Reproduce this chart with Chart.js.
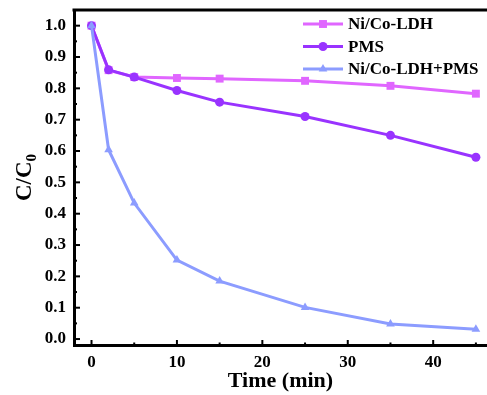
<!DOCTYPE html>
<html>
<head>
<meta charset="utf-8">
<script src="https://cdn.jsdelivr.net/npm/chart.js@4.4.1/dist/chart.umd.min.js"></script>
<style>
  html, body { margin: 0; padding: 0; background: #fff; }
  #wrap { width: 487px; height: 395px; }
</style>
</head>
<body>
<div id="wrap"><canvas id="c" width="487" height="395"></canvas></div>
<script>
// time (min) and C/C0
const times  = [0, 2, 5, 10, 15, 25, 35, 45];
const ldh    = [1.0, 0.858, 0.836, 0.833, 0.831, 0.824, 0.808, 0.783];
const pms    = [1.0, 0.859, 0.836, 0.793, 0.756, 0.710, 0.650, 0.580];
const ldhPms = [1.0, 0.604, 0.434, 0.252, 0.185, 0.101, 0.048, 0.031];

const seriesNames = ['Ni/Co-LDH', 'PMS', 'Ni/Co-LDH+PMS'];
const xTicks = [0, 10, 20, 30, 40];
const xMinor = [5, 15, 25, 35, 45];
const yTicks = [0, 0.1, 0.2, 0.3, 0.4, 0.5, 0.6, 0.7, 0.8, 0.9, 1.0];
const yMinor = [0.05, 0.15, 0.25, 0.35, 0.45, 0.55, 0.65, 0.75, 0.85, 0.95];

const FONT = "'Liberation Serif', 'Times New Roman', serif";
const PINK = '#e066ff', PURPLE = '#9933ff', BLUE = '#8c9cff';

const pts = ys => times.map((t, i) => ({ x: t, y: ys[i] }));

const ds = (label, data, color, style, r, order) => ({
  label, data: pts(data),
  borderColor: color, backgroundColor: color,
  borderWidth: 3,
  pointStyle: style, pointRadius: r, pointHoverRadius: r,
  pointBorderWidth: 0,
  tension: 0, order,
});

// inward ticks, top frame line, y title with subscript, legend with line+marker
const frame = {
  id: 'frame',
  afterDraw(chart) {
    const { ctx, chartArea: a, scales: { x, y } } = chart;
    ctx.save();
    ctx.strokeStyle = '#000';
    ctx.lineWidth = 3;
    ctx.beginPath();
    ctx.moveTo(a.left - 1.5, a.top);
    ctx.lineTo(a.right, a.top);
    ctx.stroke();

    ctx.lineWidth = 2;
    const tick = (x0, y0, x1, y1) => { ctx.beginPath(); ctx.moveTo(x0, y0); ctx.lineTo(x1, y1); ctx.stroke(); };
    yTicks.forEach(v => { const py = y.getPixelForValue(v); tick(a.left, py, a.left + 6, py); });
    yMinor.forEach(v => { const py = y.getPixelForValue(v); tick(a.left, py, a.left + 3, py); });
    xTicks.forEach(v => { const px = x.getPixelForValue(v); tick(px, a.bottom, px, a.bottom - 5); });
    xMinor.forEach(v => { const px = x.getPixelForValue(v); tick(px, a.bottom, px, a.bottom - 2.5); });

    // y title C/C0
    ctx.fillStyle = '#000';
    ctx.translate(31, (a.top + a.bottom) / 2);
    ctx.rotate(-Math.PI / 2);
    ctx.textBaseline = 'alphabetic';
    const main = 'C/C';
    ctx.font = 'bold 23px ' + FONT;
    const w1 = ctx.measureText(main).width;
    ctx.font = 'bold 15px ' + FONT;
    const w2 = ctx.measureText('0').width;
    const x0 = -(w1 + w2) / 2;
    ctx.font = 'bold 23px ' + FONT;
    ctx.fillText(main, x0, 0);
    ctx.font = 'bold 15px ' + FONT;
    ctx.fillText('0', x0 + w1, 5);
    ctx.restore();

    // legend
    ctx.save();
    const rows = [24, 46.5, 69];
    chart.data.datasets.forEach((d, i) => {
      const ry = rows[i];
      ctx.strokeStyle = d.borderColor;
      ctx.fillStyle = d.backgroundColor;
      ctx.lineWidth = 3;
      ctx.beginPath();
      ctx.moveTo(303, ry);
      ctx.lineTo(343, ry);
      ctx.stroke();
      Chart.helpers.drawPoint(ctx, { pointStyle: d.pointStyle, radius: d.pointRadius, rotation: 0, borderWidth: 0 }, 323, ry);
      ctx.fillStyle = '#000';
      ctx.font = 'bold 17px ' + FONT;
      ctx.textBaseline = 'middle';
      ctx.fillText(d.label, 348, ry + 1);
    });
    ctx.restore();
  }
};

const chart = new Chart(document.getElementById('c'), {
  type: 'line',
  data: {
    datasets: [
      ds(seriesNames[0], ldh,    PINK,   'rect',     5.6, 3),
      ds(seriesNames[1], pms,    PURPLE, 'circle',   4.5, 2),
      ds(seriesNames[2], ldhPms, BLUE,   'triangle', 5,   1),
    ]
  },
  options: {
    responsive: false,
    animation: false,
    devicePixelRatio: 1,
    layout: { autoPadding: false, padding: { top: 10, right: 0, left: 0, bottom: 0 } },
    plugins: { legend: { display: false }, tooltip: { enabled: false } },
    scales: {
      x: {
        type: 'linear',
        min: -2.05, max: 46.3,
        afterBuildTicks: s => { s.ticks = xTicks.map(v => ({ value: v })); },
        afterFit: s => { s.height = 50; s.paddingLeft = 0; s.paddingRight = 0; },
        grid: { display: false, drawTicks: false },
        border: { display: true, color: '#000', width: 3 },
        ticks: { color: '#000', padding: 7, maxRotation: 0, font: { family: FONT, size: 17, weight: 'bold' } },
        title: { display: true, text: 'Time (min)', color: '#000', padding: 0, font: { family: FONT, size: 22, weight: 'bold' } },
      },
      y: {
        min: -0.019, max: 1.05,
        afterBuildTicks: s => { s.ticks = yTicks.map(v => ({ value: v })); },
        afterFit: s => { s.width = 74; s.paddingTop = 0; s.paddingBottom = 0; },
        grid: { display: false, drawTicks: false },
        border: { display: true, color: '#000', width: 3 },
        ticks: { color: '#000', padding: 8, font: { family: FONT, size: 17, weight: 'bold' }, callback: v => v.toFixed(1) },
      }
    }
  },
  plugins: [frame]
});
</script>
</body>
</html>
